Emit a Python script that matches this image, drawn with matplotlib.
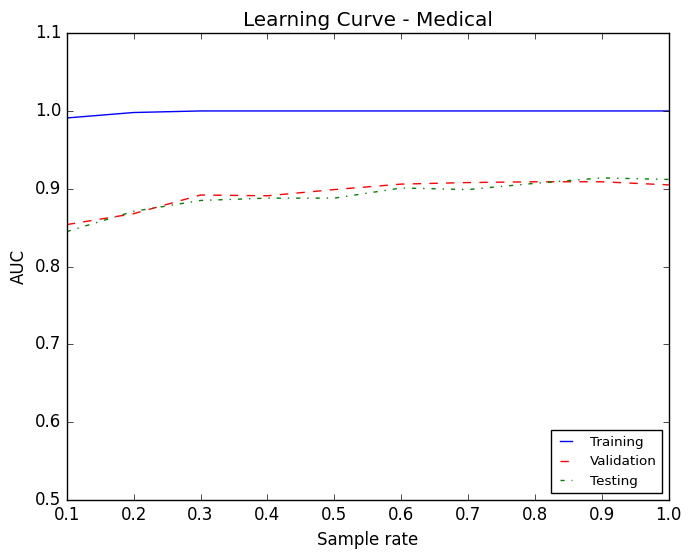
import matplotlib
matplotlib.use("Agg")
from matplotlib import pyplot as plt

# Veriler
sample_rate = [0.1, 0.2, 0.3, 0.4, 0.5, 0.6, 0.7, 0.8, 0.9, 1.0]
training = [0.991, 0.998, 1.0, 1.0, 1.0, 1.0, 1.0, 1.0, 1.0, 1.0]
validation = [0.854, 0.868, 0.892, 0.891, 0.899, 0.906, 0.908, 0.909, 0.909, 0.905]
testing = [0.845, 0.871, 0.885, 0.888, 0.888, 0.901, 0.899, 0.907, 0.914, 0.912]

plt.style.use('classic')
fig = plt.figure(figsize=(6.88, 5.52), dpi=100, facecolor='white')
ax = fig.add_axes([0.097, 0.094, 0.875, 0.846])

ax.plot(sample_rate, training, 'b-', label='Training')
ax.plot(sample_rate, validation, 'r--', label='Validation')
ax.plot(sample_rate, testing, 'g-.', label='Testing')

ax.set_xlim(0.1, 1.0)
ax.set_ylim(0.5, 1.1)
ax.set_xlabel('Sample rate')
ax.set_ylabel('AUC')
ax.set_title('Learning Curve - Medical')
ax.legend(loc='lower right', fontsize=9.7, handlelength=1.5, handletextpad=1.0)

fig.savefig('out.png', dpi=100, facecolor='white')
